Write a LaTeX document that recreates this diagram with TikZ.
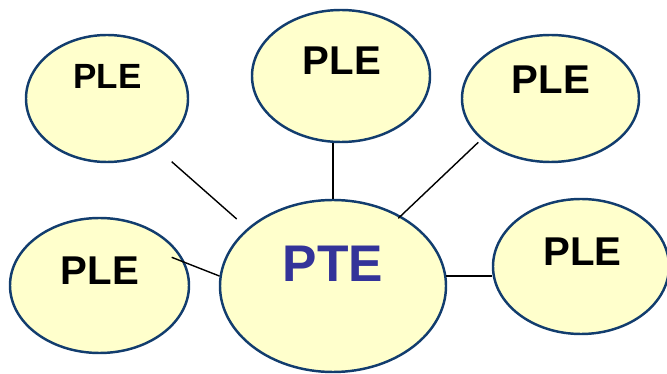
\documentclass[tikz,border=0pt]{standalone}
\usepackage{fontspec}
\setmainfont{Liberation Sans}
\usetikzlibrary{shapes.geometric}

\definecolor{blobfill}{HTML}{FFFFCC}
\definecolor{blobline}{HTML}{123D6E}
\definecolor{ptetext}{HTML}{333399}

\tikzset{
  blob/.style 2 args={ellipse, draw=blobline, fill=blobfill, line width=2.1pt,
    inner sep=0pt, minimum width=#1, minimum height=#2},
  plelabel/.style={inner sep=0pt, font=\bfseries\fontsize{34.3}{40}\selectfont},
  spoke/.style={line width=1.2pt}
}

\begin{document}
\begin{tikzpicture}[x=0.03cm, y=-0.03cm]
        \useasboundingbox (0,0) rectangle (667,374);

        \node[blob={4.86cm}{3.81cm}] (tl) at (107,98.5) {};
        \node[blob={5.34cm}{3.96cm}] (top) at (341,76) {};
        \node[blob={5.31cm}{3.81cm}] (tr) at (550.5,98.5) {};
        \node[blob={5.37cm}{4.05cm}] (bl) at (99.5,285.5) {};
        \node[blob={5.28cm}{4.05cm}] (rt) at (581,266.5) {};
        \node[blob={6.78cm}{5.16cm}] (pte) at (333,286) {};

        \node[plelabel, font=\bfseries\fontsize{29.9}{35}\selectfont] (tl-txt) at (107.5,76) {PLE};
        \node[plelabel] (top-txt) at (342,61) {PLE};
        \node[plelabel] (tr-txt) at (551,80) {PLE};
        \node[plelabel] (bl-txt) at (100,271) {PLE};
        \node[plelabel] (rt-txt) at (582.5,252) {PLE};
        \node[inner sep=0pt, text=ptetext, font=\bfseries\fontsize{44}{52}\selectfont]
        (pte-txt) at (333,264) {PTE};

        \coordinate (tl-a) at (171.7,161.7);
        \coordinate (tl-b) at (236.7,219);
        \coordinate (bl-a) at (171.7,257.3);
        \coordinate (tr-a) at (478.3,142.3);
        \coordinate (tr-b) at (398.3,218.3);

        \draw[spoke] (tl-a) -- (tl-b);
        \draw[spoke] (bl-a) -- (pte.175);
        \draw[spoke] (pte.north) -- (pte.north |- top.south);
        \draw[spoke] (tr-a) -- (tr-b);
        \draw[spoke] (pte.5) -- (pte.5 -| rt.west);

      \end{tikzpicture}
\end{document}
